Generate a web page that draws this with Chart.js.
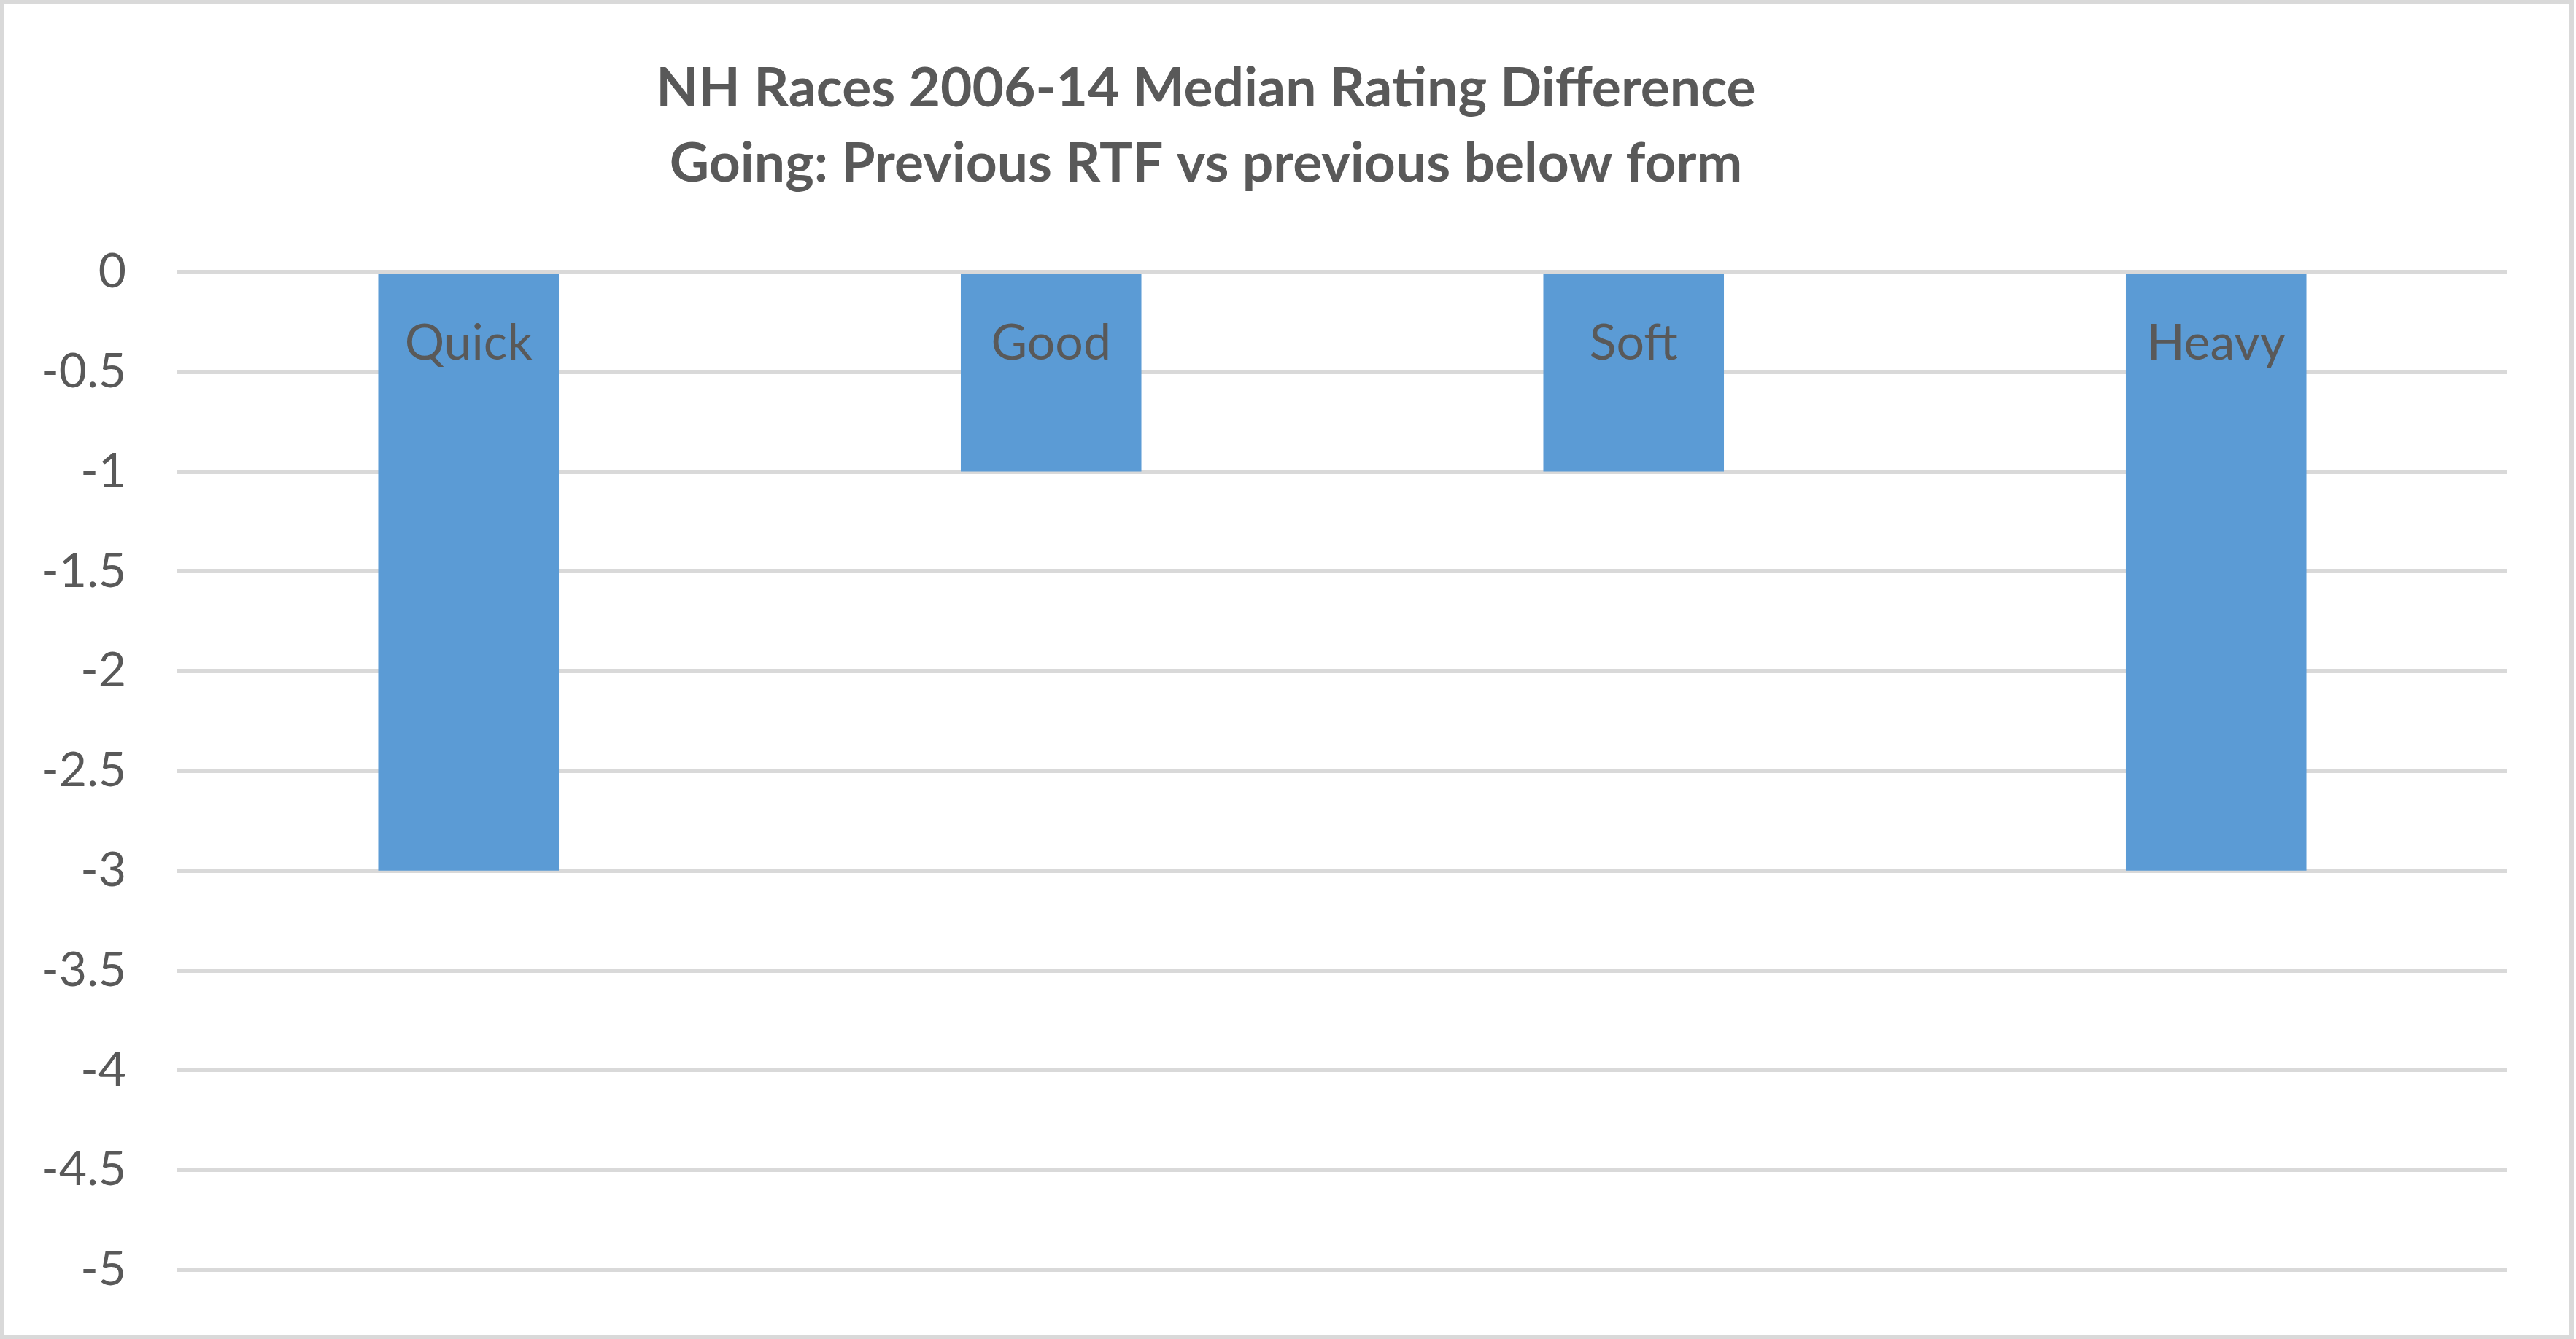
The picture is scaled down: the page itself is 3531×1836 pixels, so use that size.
<!DOCTYPE html>
<html>
<head>
<meta charset="utf-8">
<script src="https://cdn.jsdelivr.net/npm/chart.js@4/dist/chart.umd.min.js"></script>
<style>
  html, body { margin: 0; padding: 0; background: #fff; }
  #wrap { width: 3531px; height: 1836px; position: relative; }
</style>
</head>
<body>
<div id="wrap"><canvas id="goingChart"></canvas></div>
<script>
// Going categories and median rating difference
const categories = ['Quick', 'Good', 'Soft', 'Heavy'];
const medianDiff = [-3, -1, -1, -3];

// Y axis range
const yMin = -5;
const yMax = 0;
const yStep = 0.5;

const titleLines = [
    'NH Races 2006-14 Median Rating Difference',
    'Going: Previous RTF vs previous below form'
];

const textColor = '#595959';
const gridColor = '#d9d9d9';
const barColor = '#5b9bd5';

// white background plus light grey frame round the whole chart
const frame = {
    id: 'frame',
    beforeDraw(chart) {
        const c = chart.ctx;
        c.save();
        c.fillStyle = '#ffffff';
        c.fillRect(0, 0, chart.width, chart.height);
        c.restore();
    },
    afterDraw(chart) {
        const c = chart.ctx;
        c.save();
        c.strokeStyle = gridColor;
        c.lineWidth = 6;
        c.strokeRect(3, 3, chart.width - 9, chart.height - 6);
        c.restore();
    }
};

// title sits a bit left of the canvas centre, like the Excel original
const chartTitle = {
    id: 'chartTitle',
    afterDraw(chart) {
        const c = chart.ctx;
        c.save();
        c.font = 'bold 75px Lato';
        c.fillStyle = textColor;
        c.textAlign = 'center';
        c.textBaseline = 'middle';
        titleLines.forEach(function(line, i) {
            c.fillText(line, 1653, 122 + i * 103);
        });
        c.restore();
    }
};

// category names written inside each bar, just under the zero line
const barLabels = {
    id: 'barLabels',
    afterDatasetsDraw(chart) {
        const c = chart.ctx;
        const meta = chart.getDatasetMeta(0);
        const zeroY = chart.scales.y.getPixelForValue(0);
        c.save();
        c.font = '400 68px Lato';
        c.fillStyle = textColor;
        c.textAlign = 'center';
        c.textBaseline = 'alphabetic';
        meta.data.forEach(function(bar, i) {
            c.fillText(categories[i], bar.x, zeroY + 120);
        });
        c.restore();
    }
};

const ctx = document.getElementById('goingChart').getContext('2d');
const goingChart = new Chart(ctx, {
    type: 'bar',
    data: {
        labels: categories,
        datasets: [{
            data: medianDiff,
            backgroundColor: barColor,
            borderWidth: 0,
            categoryPercentage: 1,
            barPercentage: 0.31
        }]
    },
    options: {
        responsive: true,
        maintainAspectRatio: false,
        devicePixelRatio: 1,
        animation: false,
        layout: {
            padding: { top: 373, right: 94, bottom: 95, left: 0 }
        },
        plugins: {
            legend: { display: false },
            tooltip: { enabled: false },
            title: { display: false }
        },
        scales: {
            x: {
                display: false,
                grid: { display: false }
            },
            y: {
                min: yMin,
                max: yMax,
                afterFit: function(scale) {
                    scale.width = 243;
                    // the tick padding should not push the plot area in
                    scale.paddingTop = 0;
                    scale.paddingBottom = 0;
                },
                border: { display: false },
                grid: {
                    color: gridColor,
                    lineWidth: 6,
                    drawTicks: false
                },
                ticks: {
                    stepSize: yStep,
                    padding: 70,
                    color: textColor,
                    font: { family: 'Lato', size: 66 },
                    callback: function(value) { return String(value); }
                }
            }
        }
    },
    plugins: [frame, chartTitle, barLabels]
});
</script>
</body>
</html>
